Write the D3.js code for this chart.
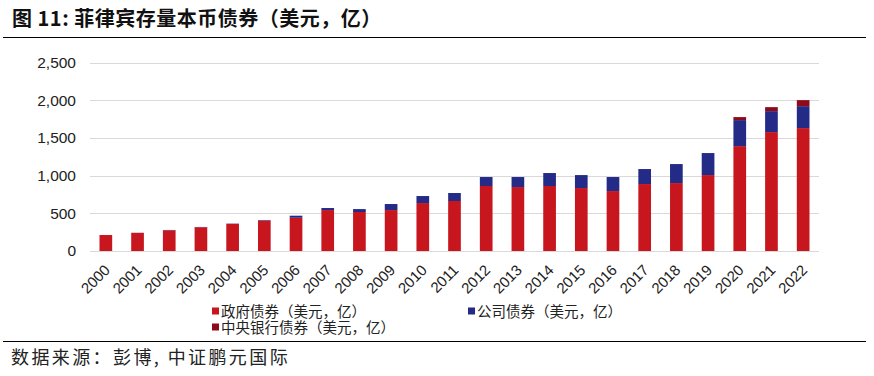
<!DOCTYPE html>
<html>
<head>
<meta charset="utf-8">
<script src="https://cdn.jsdelivr.net/npm/d3@7"></script>
<style>
  body { margin: 0; background: #fff; }
  svg { display: block; font-family: "Liberation Sans", Arial, "Noto Sans CJK SC", sans-serif; }
  .cjk { font-family: "Noto Sans CJK SC", sans-serif; }
</style>
</head>
<body>
<div id="chart"></div>
<script>
// categories and series (亿美元)
const years = ["2000","2001","2002","2003","2004","2005","2006","2007","2008","2009","2010","2011",
  "2012","2013","2014","2015","2016","2017","2018","2019","2020","2021","2022"];
const govBonds = [212, 240, 275, 315, 358, 405, 441, 543, 517, 543, 636, 663,
  862, 848, 862, 835, 795, 888, 901, 1007, 1391, 1577, 1630];
const corpBonds = [0, 2, 4, 4, 5, 6, 27, 27, 39, 80, 93, 106,
  119, 133, 172, 172, 186, 199, 252, 292, 345, 278, 291];
const cbBonds = [0, 0, 0, 0, 0, 0, 0, 0, 0, 0, 0, 0,
  0, 0, 0, 0, 0, 0, 0, 0, 40, 53, 80];
const yTicks = [0, 500, 1000, 1500, 2000, 2500];
const seriesNames = ["政府债券（美元，亿）", "公司债券（美元，亿）", "中央银行债券（美元，亿）"];
const seriesColors = ["#C8161E", "#232B87", "#8E0A18"];

const width = 874, height = 376;
const margin = { left: 90, right: 55, top: 62, bottom: 125 };

const svg = d3.select("#chart").append("svg")
  .attr("width", width)
  .attr("height", height);

// title + rules
svg.append("text")
  .attr("class", "cjk")
  .attr("x", 12).attr("y", 26)
  .attr("font-size", 20).attr("font-weight", "bold").attr("fill", "#111")
  .attr("letter-spacing", 0.5)
  .text("图 11: 菲律宾存量本币债券（美元，亿）");
svg.append("line").attr("x1", 3).attr("x2", 866).attr("y1", 37.5).attr("y2", 37.5)
  .attr("stroke", "#000").attr("stroke-width", 1.2);
svg.append("line").attr("x1", 3).attr("x2", 866).attr("y1", 341.5).attr("y2", 341.5)
  .attr("stroke", "#000").attr("stroke-width", 1.2);
svg.append("text")
  .attr("class", "cjk")
  .attr("x", 11).attr("y", 364)
  .attr("font-size", 18).attr("fill", "#222")
  .attr("letter-spacing", 2.4)
  .text("数据来源：彭博, 中证鹏元国际");

const x = d3.scaleBand()
  .domain(years)
  .range([margin.left, width - margin.right])
  .paddingInner(0.6)
  .paddingOuter(0.3);

const y = d3.scaleLinear()
  .domain([0, 2500])
  .range([251, 62.5]);

// gridlines
svg.append("g")
  .selectAll("line")
  .data(yTicks)
  .join("line")
  .attr("x1", margin.left).attr("x2", width - margin.right)
  .attr("y1", d => Math.round(y(d)) + 0.5).attr("y2", d => Math.round(y(d)) + 0.5)
  .attr("stroke", "#d9d9d9").attr("stroke-width", 1);

// y axis labels
const yAxis = d3.axisLeft(y).tickValues(yTicks).tickSize(0).tickPadding(14)
  .tickFormat(d3.format(","));
svg.append("g")
  .attr("transform", `translate(${margin.left},0)`)
  .call(yAxis)
  .call(g => g.select(".domain").remove())
  .call(g => g.selectAll("text").attr("font-size", 15.5).attr("fill", "#222")
    .attr("font-family", "'Liberation Sans', Arial, sans-serif"));

// stacked bars
const rows = years.map((yr, i) => ({ year: yr, gov: govBonds[i], corp: corpBonds[i], cb: cbBonds[i] }));
const stack = d3.stack().keys(["gov", "corp", "cb"]);
const layers = stack(rows);

svg.append("g")
  .selectAll("g")
  .data(layers)
  .join("g")
  .attr("fill", (d, i) => seriesColors[i])
  .selectAll("rect")
  .data(d => d)
  .join("rect")
  .attr("x", d => x(d.data.year))
  .attr("width", x.bandwidth())
  .attr("y", d => y(d[1]))
  .attr("height", d => y(d[0]) - y(d[1]));

// x axis labels, rotated
const xAxis = d3.axisBottom(x).tickSize(0).tickPadding(0);
svg.append("g")
  .attr("transform", `translate(0,${y(0)})`)
  .call(xAxis)
  .call(g => g.select(".domain").remove())
  .call(g => g.selectAll("text")
    .attr("font-size", 15).attr("fill", "#222")
    .attr("font-family", "'Liberation Sans', Arial, sans-serif")
    .attr("text-anchor", "end")
    .attr("y", 0)
    .attr("dy", 0)
    .attr("transform", "translate(5,20) rotate(-45)"));

// legend
const legendItems = [
  { name: seriesNames[0], color: seriesColors[0], x: 212, y: 311 },
  { name: seriesNames[1], color: seriesColors[1], x: 468, y: 311 },
  { name: seriesNames[2], color: seriesColors[2], x: 212, y: 327 }
];
const legend = svg.append("g");
legend.selectAll("rect")
  .data(legendItems)
  .join("rect")
  .attr("x", d => d.x).attr("y", d => d.y - 3.5)
  .attr("width", 7).attr("height", 7)
  .attr("fill", d => d.color);
legend.selectAll("text")
  .data(legendItems)
  .join("text")
  .attr("class", "cjk")
  .attr("x", d => d.x + 9).attr("y", d => d.y + 5.5)
  .attr("font-size", 14.5).attr("fill", "#222")
  .text(d => d.name);
</script>
</body>
</html>
